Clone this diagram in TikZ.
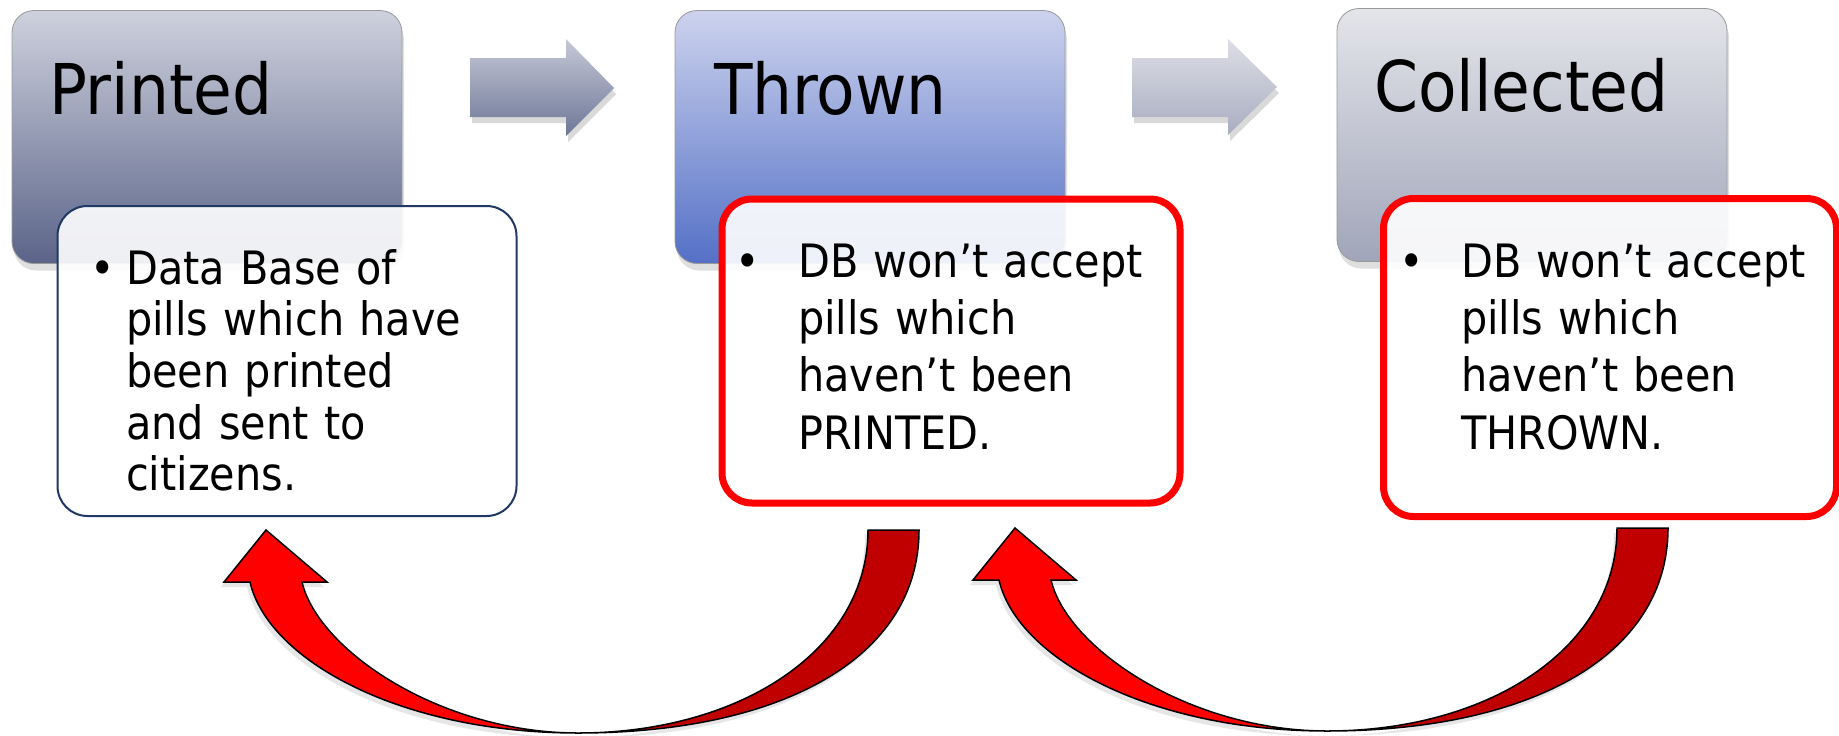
\documentclass[tikz,border=0pt]{standalone}
\usepackage{fontspec}
\setmainfont{DejaVu Sans Condensed}
\usetikzlibrary{shadows}

\definecolor{printtop}{HTML}{CED1DD}
\definecolor{printbot}{HTML}{5B6489}
\definecolor{throwtop}{HTML}{CDD3EE}
\definecolor{throwbot}{HTML}{5470C6}
\definecolor{colltop}{HTML}{E4E5EA}
\definecolor{collbot}{HTML}{A0A5B9}
\definecolor{steptop}{HTML}{C5C8D7}
\definecolor{stepbot}{HTML}{6E7797}
\definecolor{lighttop}{HTML}{DDDEE6}
\definecolor{lightbot}{HTML}{A9ADC0}
\definecolor{navyline}{HTML}{1F3864}
\definecolor{backred}{HTML}{C00000}

\tikzset{
  stage/.style={draw=gray!80, line width=0.8pt, rounded corners=22pt,
    minimum width=390pt, minimum height=253pt, inner sep=0pt,
    drop shadow={shadow xshift=2pt, shadow yshift=-7pt, opacity=0.25}},
  stagename/.style={anchor=base west, inner sep=0pt, font=\fontsize{70}{84}\selectfont},
  notebox/.style={fill=white, fill opacity=0.9, rounded corners=30pt, inner sep=0pt},
  notetext/.style={anchor=base west, inner sep=0pt, align=left, text width=420pt},
  bulletmark/.style={anchor=base, inner sep=0pt, font=\fontsize{46}{50}\selectfont},
  flowarrow/.style={drop shadow={shadow xshift=2pt, shadow yshift=-6pt, opacity=0.3}},
  backarrow/.style={draw=black, line width=1.5pt, line join=miter,
    drop shadow={shadow xshift=-3pt, shadow yshift=-5pt, opacity=0.2}}
}

\begin{document}
\begin{tikzpicture}[x=1pt, y=-1pt]
  \useasboundingbox (0,0) rectangle (1839,736);

  % the three stages
  \node[stage, top color=printtop, bottom color=printbot] (printed) at (207,137) {};
  \node[stage, top color=throwtop, bottom color=throwbot] (thrown) at (870,137) {};
  \node[stage, top color=colltop, bottom color=collbot] (collected) at (1532,135) {};
  \node[stagename] (printedname) at (49,114) {Printed};
  \node[stagename] (thrownname) at (714,114) {Thrown};
  \node[stagename] (collectedname) at (1374,111) {Collected};

  % arrows between the stages
  \shade[flowarrow, top color=steptop, bottom color=stepbot]
    (470,58) -- (566,58) -- (566,39) -- (614,88) -- (566,136) -- (566,117) -- (470,117) -- cycle;
  \shade[flowarrow, top color=lighttop, bottom color=lightbot]
    (1132,58) -- (1228,58) -- (1228,39) -- (1277,87) -- (1228,135) -- (1228,117) -- (1132,117) -- cycle;

  % notes
  \node[notebox, draw=navyline, line width=2pt, minimum width=459pt, minimum height=310pt] (printednote) at (287,361) {};
  \node[notebox, draw=red, line width=7pt, minimum width=458pt, minimum height=304pt] (thrownnote) at (951,351) {};
  \node[notebox, draw=red, line width=7pt, minimum width=453pt, minimum height=318pt] (collectednote) at (1610,357.5) {};

  \node[bulletmark] (printeddot) at (103,284) {•};
  \node[notetext, font=\fontsize{46}{51.7}\selectfont] (printedtext) at (126,284)
    {Data Base of\\pills which have\\been printed\\and sent to\\citizens.};
  \node[bulletmark] (throwndot) at (748,277) {•};
  \node[notetext, font=\fontsize{46}{57.4}\selectfont] (throwntext) at (798,277)
    {DB won’t accept\\pills which\\haven’t been\\PRINTED.};
  \node[bulletmark] (collecteddot) at (1412,277) {•};
  \node[notetext, font=\fontsize{46}{57.4}\selectfont] (collectedtext) at (1461,277)
    {DB won’t accept\\pills which\\haven’t been\\THROWN.};

  % arrows back to the previous stage
  \foreach \dx/\dy in {0/0, 749/-2}{
    \begin{scope}[shift={(\dx,\dy)}]
      \filldraw[backarrow, fill=backred] (578,733) .. controls (778,733) and (919,660) .. (919,530)
        -- (868,530) .. controls (868,650) and (740,733) .. (578,733) -- cycle;
      \filldraw[backarrow, fill=red] (578,733) .. controls (400,733) and (268,660) .. (250,582)
        -- (224,582) -- (266,530) -- (327,582) -- (302,582)
        .. controls (318,650) and (440,733) .. (578,733) -- cycle;
    \end{scope}
  }
\end{tikzpicture}
\end{document}
